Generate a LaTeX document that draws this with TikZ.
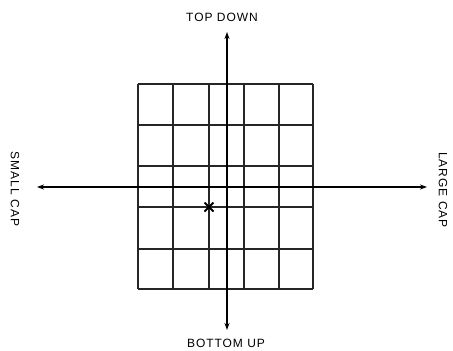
\documentclass[tikz,border=0pt]{standalone}
\usepackage{fontspec}
\setmainfont{Liberation Sans}
\newfontfamily\lblfont[LetterSpace=8]{Liberation Sans}
\usetikzlibrary{arrows.meta}
\begin{document}
\begin{tikzpicture}[x=1pt,y=-1pt,
  gridline/.style={line width=1.1pt,black!85},
  axis/.style={line width=1.1pt,{Stealth[length=7pt,width=5pt]}-{Stealth[length=7pt,width=5pt]}},
  lbl/.style={font=\lblfont\fontsize{12}{12}\selectfont,inner sep=0pt},
  cross/.style={line width=2pt}]
\useasboundingbox (0,0) rectangle (453,351);
% grid
\foreach \x in {138,173,209,244,279,313} \draw[gridline] (\x,84) -- (\x,289);
\foreach \y in {84,125,166,207,249,289} \draw[gridline] (138,\y) -- (313,\y);
% axes
\coordinate (top) at (227,32);
\coordinate (bot) at (227,330);
\coordinate (left) at (37,187);
\coordinate (right) at (427,187);
\draw[axis] (top) -- (bot);
\draw[axis] (left) -- (right);
% labels
\node[lbl] (td) at (222,17.5) {TOP DOWN};
\node[lbl] (bu) at (226,343) {BOTTOM UP};
\node[lbl,rotate=-90] (sc) at (15,189) {SMALL CAP};
\node[lbl,rotate=-90] (lc) at (443,190) {LARGE CAP};
% cross mark
\coordinate (xm) at (209,207);
\draw[cross] ([shift={(-4.5,-4.5)}]xm) -- ([shift={(4.5,4.5)}]xm);
\draw[cross] ([shift={(-4.5,4.5)}]xm) -- ([shift={(4.5,-4.5)}]xm);
\end{tikzpicture}
\end{document}
